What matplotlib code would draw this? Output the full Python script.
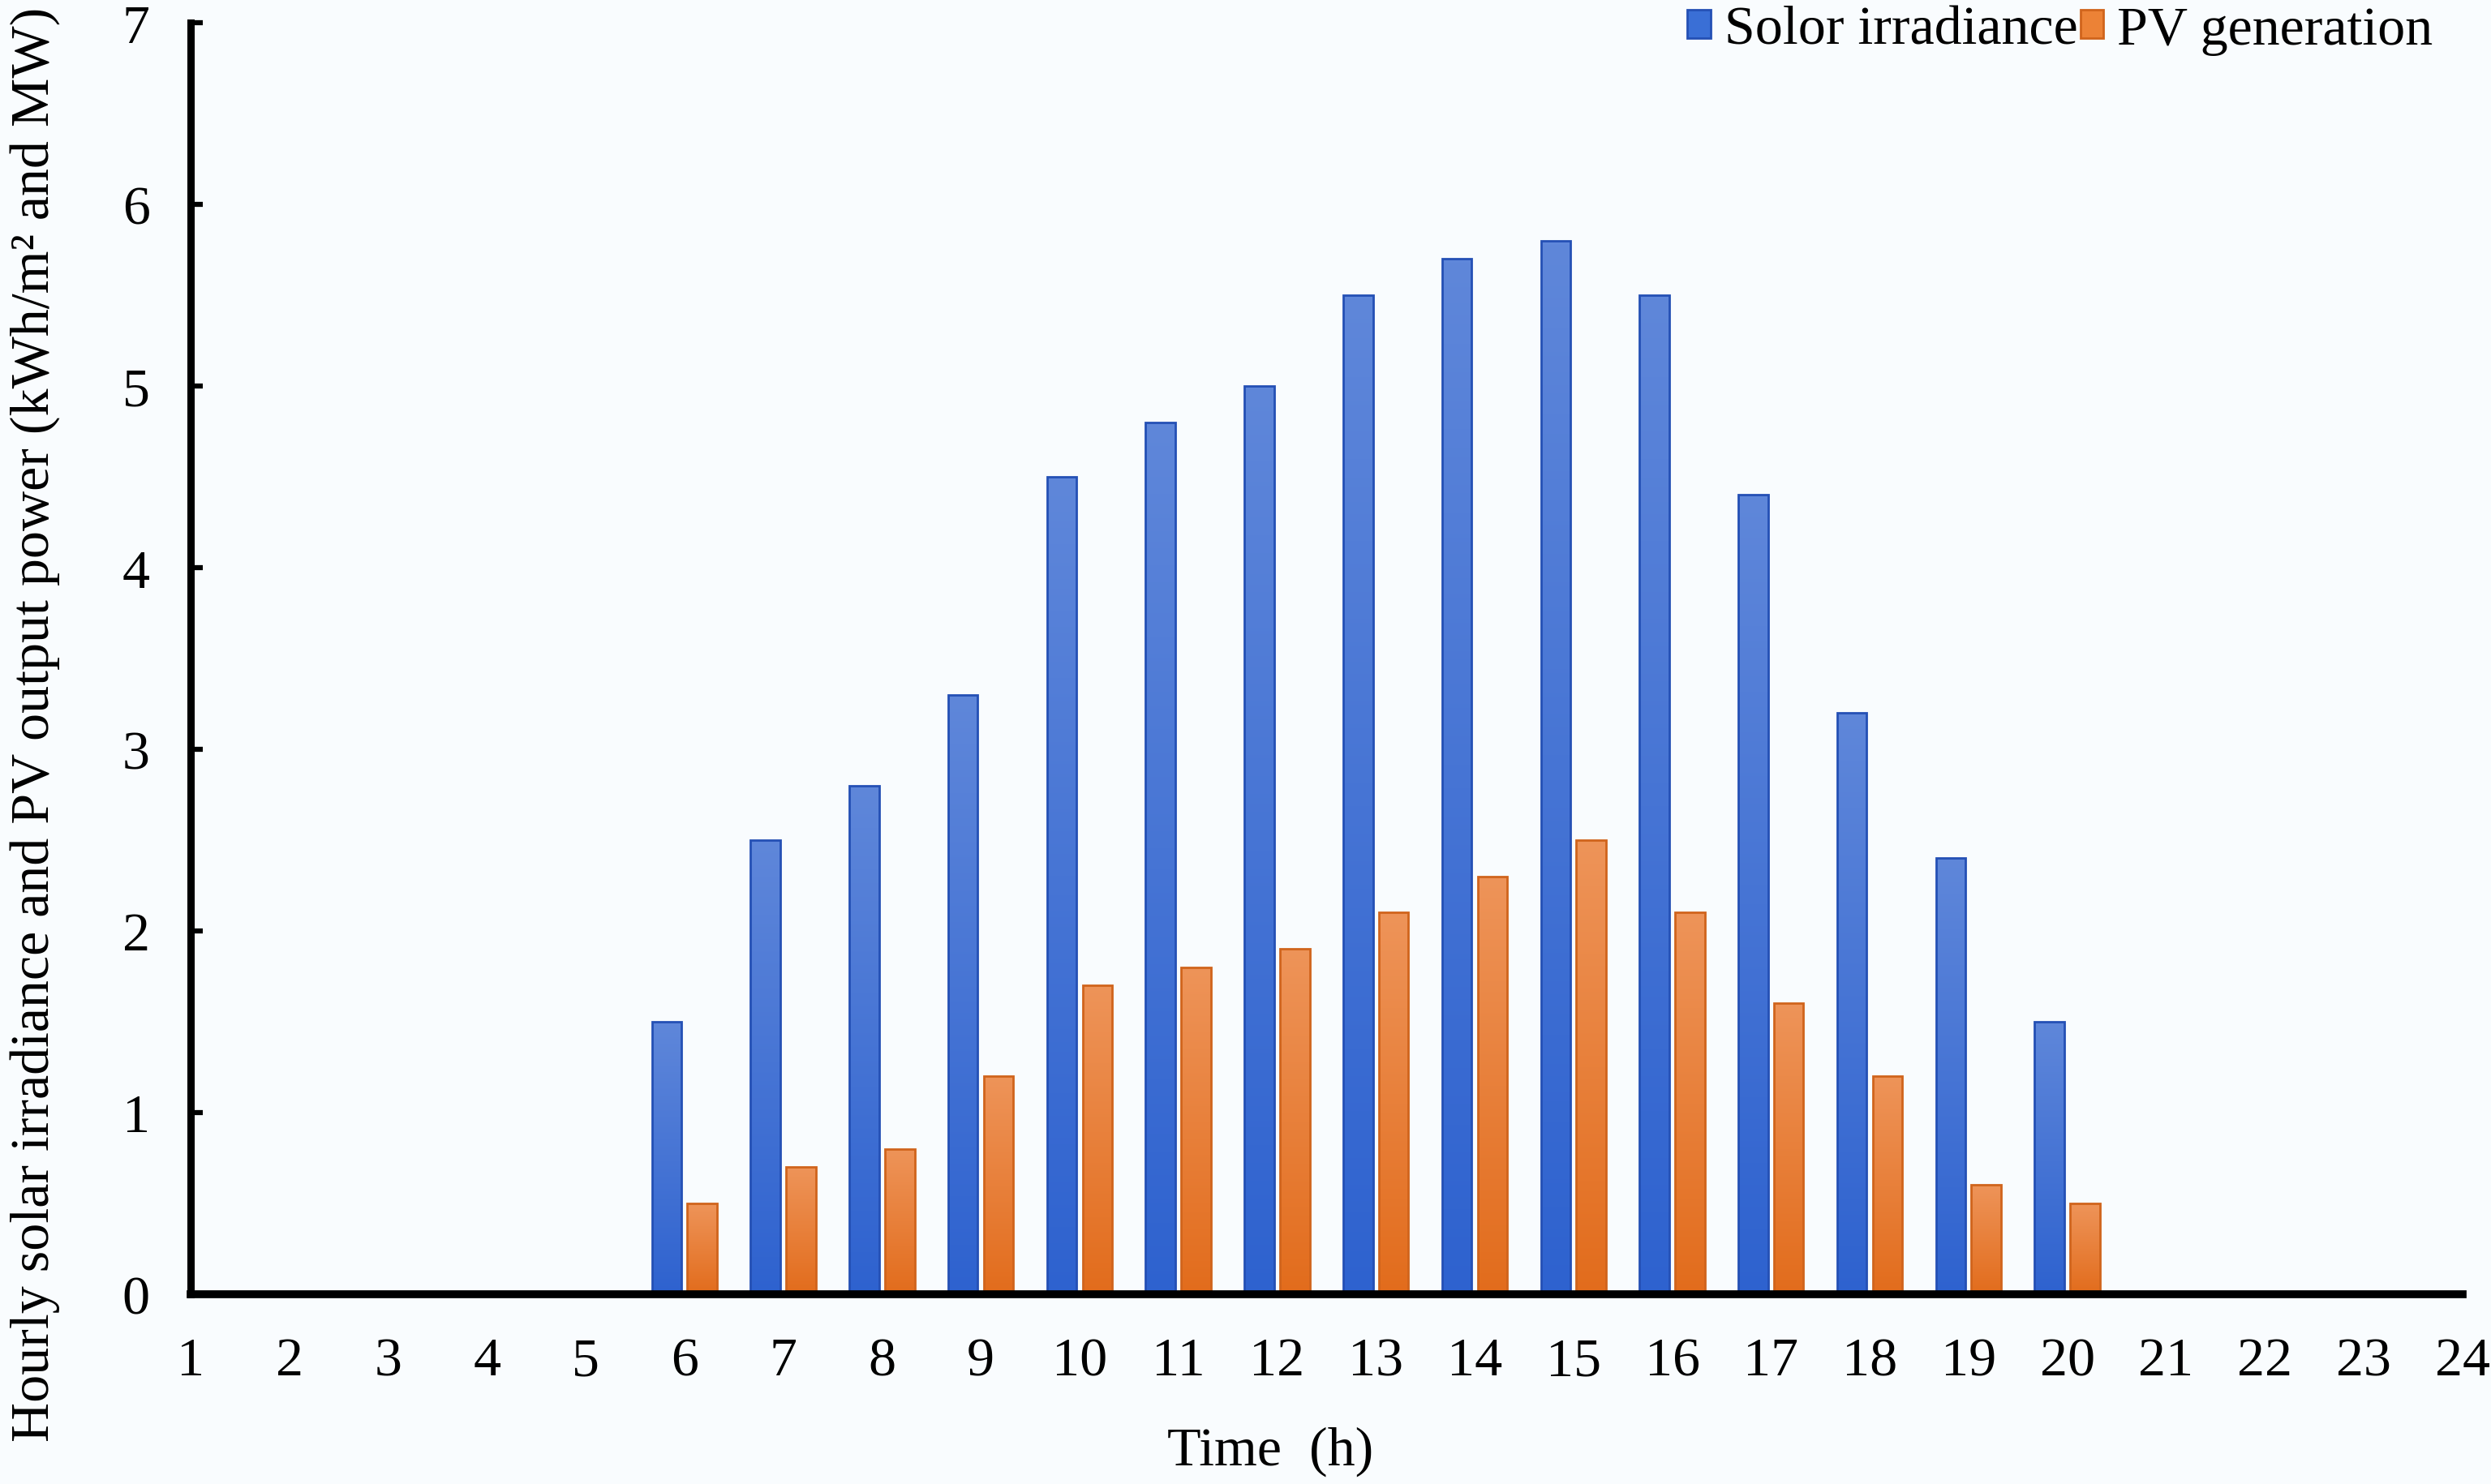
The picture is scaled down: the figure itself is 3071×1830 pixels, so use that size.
import numpy as np
import matplotlib
matplotlib.use("Agg")
import matplotlib.pyplot as plt
from matplotlib.colors import LinearSegmentedColormap

# Data
hours = list(range(1, 25))
irradiance = [0, 0, 0, 0, 0, 1.5, 2.5, 2.8, 3.3, 4.5, 4.8, 5.0,
              5.5, 5.7, 5.8, 5.5, 4.4, 3.2, 2.4, 1.5, 0, 0, 0, 0]
pv_power = [0, 0, 0, 0, 0, 0.5, 0.7, 0.8, 1.2, 1.7, 1.8, 1.9,
            2.1, 2.3, 2.5, 2.1, 1.6, 1.2, 0.6, 0.5, 0, 0, 0, 0]
y_ticks = [0, 1, 2, 3, 4, 5, 6, 7]

plt.rcParams['font.family'] = ['Liberation Serif', 'DejaVu Serif']
FS = 49
BG = '#f9fcfe'

fig = plt.figure(figsize=(30.71, 18.31), dpi=100, facecolor=BG)
ax = fig.add_axes([0.0765, 0.128, 0.912, 0.856])
ax.set_facecolor(BG)

x = np.array(hours, dtype=float)
w = 0.30
off = 0.18

blue_cmap = LinearSegmentedColormap.from_list('b', ['#2e62cf', '#5f87da'])
orange_cmap = LinearSegmentedColormap.from_list('o', ['#e26c1c', '#ee9459'])

b1 = ax.bar(x - off, irradiance, w, facecolor='none', edgecolor='#2450b5',
            linewidth=2, label='Solor irradiance', zorder=2)
b2 = ax.bar(x + off, pv_power, w, facecolor='none', edgecolor='#d0641c',
            linewidth=2, label='PV generation', zorder=2)

# vertical gradient fill inside each bar
grad = np.linspace(0, 1, 256).reshape(-1, 1)
for bars, cmap in ((b1, blue_cmap), (b2, orange_cmap)):
    for bar in bars:
        h = bar.get_height()
        if h <= 0:
            continue
        bx, by = bar.get_xy()
        im = ax.imshow(grad, extent=[bx, bx + bar.get_width(), by, by + h],
                       origin='lower', aspect='auto', cmap=cmap, zorder=1.5)
        im.set_clip_path(bar)

ax.set_xlim(1, 24)
ax.set_ylim(0, 7)
ax.set_xticks(hours)
ax.set_yticks(y_ticks)

for s in ('top', 'right'):
    ax.spines[s].set_visible(False)
ax.spines['left'].set_linewidth(6.5)
ax.spines['bottom'].set_linewidth(7)
ax.spines['left'].set_zorder(3)
ax.spines['bottom'].set_zorder(3)

ax.tick_params(axis='x', length=0, pad=38, labelsize=FS)
ax.tick_params(axis='y', direction='in', length=11, width=4.5, pad=36, labelsize=FS)

fig.text(0.014, 0.512, 'Hourly solar irradiance and PV output power (kWh/m² and MW)',
         rotation=90, ha='center', va='center', fontsize=FS)
fig.text(0.510, 0.022, 'Time  (h)', ha='center', va='center', fontsize=FS)

handles = [plt.Rectangle((0, 0), 1, 1, facecolor='#3a6fd6', edgecolor='#2450b5', linewidth=2),
           plt.Rectangle((0, 0), 1, 1, facecolor='#ec8236', edgecolor='#d0641c', linewidth=2)]
fig.legend(handles, ['Solor irradiance', 'PV generation'], loc='upper right',
           bbox_to_anchor=(0.990, 1.018), ncol=2, frameon=False, fontsize=FS,
           handlelength=0.42, handleheight=0.42, handletextpad=0.25,
           columnspacing=0.05, borderpad=0.1)

fig.savefig('out.png', dpi=100, facecolor=BG)
